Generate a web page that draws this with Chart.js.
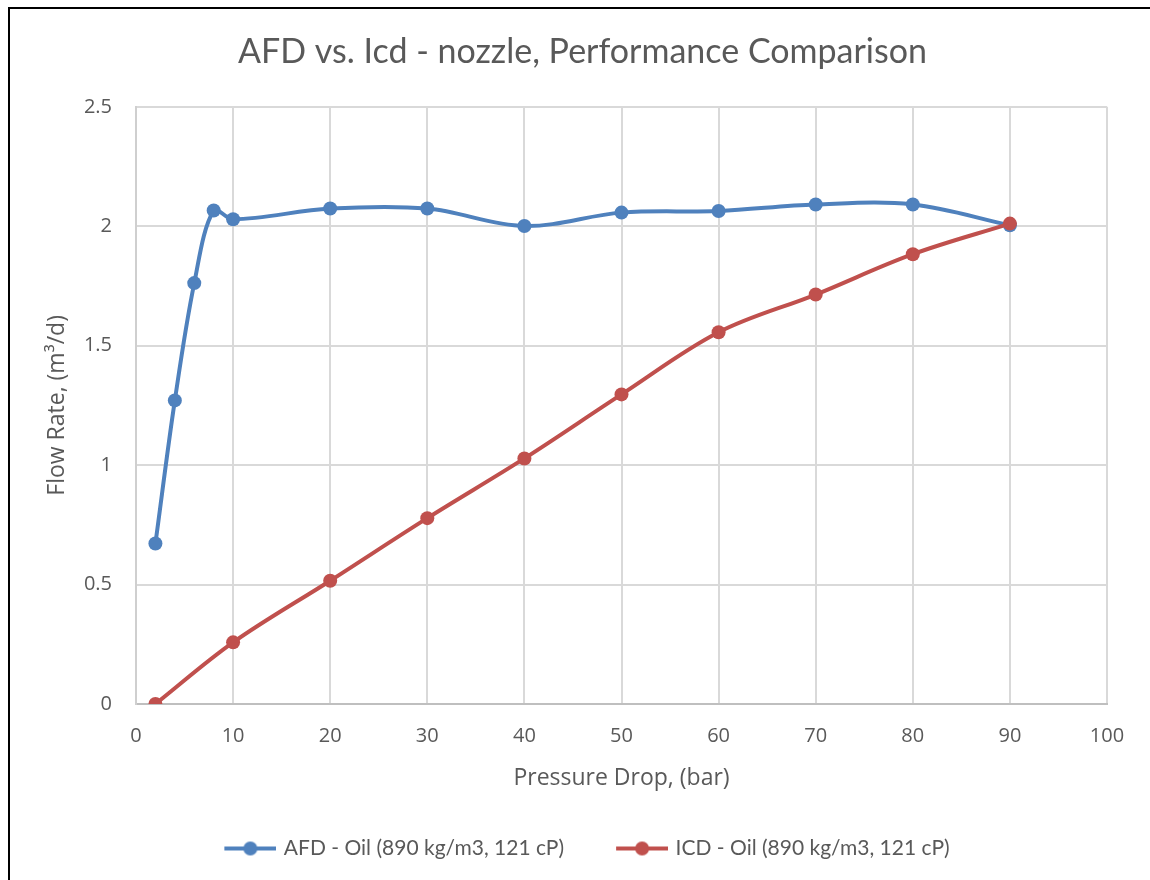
<!DOCTYPE html>
<html>
<head>
<meta charset="utf-8">
<title>AFD vs. Icd - nozzle, Performance Comparison</title>
<script src="https://cdn.jsdelivr.net/npm/chart.js@4.4.1/dist/chart.umd.min.js"></script>
<style>
  html, body { margin: 0; padding: 0; background: #ffffff; }
  #wrap { position: relative; width: 1150px; height: 880px; overflow: hidden; }
  #frame { position: absolute; left: 8px; top: 7px; width: 1200px; height: 900px;
           border-left: 2px solid #000; border-top: 2px solid #000; pointer-events: none; }
  canvas { position: absolute; left: 0; top: 0; }
</style>
</head>
<body>
<div id="wrap">
  <canvas id="chart" width="1150" height="880"></canvas>
  <div id="frame"></div>
</div>
<script>
// Pressure drop (bar) and oil flow rate (m³/d) for each device
const afdPressure = [2, 4, 6, 8, 10, 20, 30, 40, 50, 60, 70, 80, 90];
const afdFlow     = [0.672, 1.271, 1.762, 2.066, 2.029, 2.074, 2.074, 2.001, 2.057, 2.064, 2.091, 2.091, 2.004];
const icdPressure = [2, 10, 20, 30, 40, 50, 60, 70, 80, 90];
const icdFlow     = [0, 0.258, 0.516, 0.778, 1.028, 1.296, 1.556, 1.714, 1.883, 2.011];
const seriesNames = ['AFD - Oil (890 kg/m3, 121 cP)', 'ICD - Oil (890 kg/m3, 121 cP)'];
const seriesColors = ['#4f81bd', '#c0504d'];

const TEXT = '#595959';
const SANS = '"Open Sans", "Noto Sans", sans-serif';
const HUMAN = 'Lato, "Open Sans", sans-serif';

function toPoints(xs, ys) {
  return xs.map((x, i) => ({ x: x, y: ys[i] }));
}

// Legend marker: a short line with a dot in the middle
function legendSymbol(color) {
  const c = document.createElement('canvas');
  c.width = 64; c.height = 16;
  const g = c.getContext('2d');
  g.strokeStyle = color;
  g.lineWidth = 4;
  g.beginPath();
  g.moveTo(12, 8); g.lineTo(64, 8);
  g.stroke();
  g.fillStyle = color;
  g.beginPath();
  g.arc(38, 8, 7, 0, Math.PI * 2);
  g.fill();
  return c;
}
const symbols = seriesColors.map(legendSymbol);

const datasets = [
  { label: seriesNames[0], data: toPoints(afdPressure, afdFlow), order: 2 },
  { label: seriesNames[1], data: toPoints(icdPressure, icdFlow), order: 1 }
].map((ds, i) => Object.assign(ds, {
  borderColor: seriesColors[i],
  backgroundColor: seriesColors[i],
  borderWidth: 4,
  pointRadius: 7,
  pointHoverRadius: 7,
  pointBorderWidth: 0,
  pointBackgroundColor: seriesColors[i],
  tension: 0.35,
  fill: false,
  yAxisID: 'y'
}));

new Chart(document.getElementById('chart'), {
  type: 'line',
  data: { datasets: datasets },
  options: {
    responsive: false,
    animation: false,
    devicePixelRatio: 1,
    layout: { padding: { left: 29, right: 14, top: 0, bottom: 11 } },
    plugins: {
      tooltip: { enabled: false },
      title: {
        display: true,
        text: 'AFD vs. Icd - nozzle, Performance Comparison',
        color: TEXT,
        font: { family: HUMAN, size: 34, weight: 'normal' },
        padding: { top: 32, bottom: 34 }
      },
      legend: {
        position: 'bottom',
        labels: {
          usePointStyle: true,
          pointStyleWidth: 58,
          padding: 43,
          color: TEXT,
          font: { family: HUMAN, size: 21 },
          generateLabels: (chart) => chart.data.datasets.map((ds, i) => ({
            text: ds.label,
            pointStyle: symbols[i],
            fillStyle: ds.borderColor,
            strokeStyle: ds.borderColor,
            fontColor: TEXT,
            lineWidth: 0,
            hidden: false,
            datasetIndex: i
          }))
        }
      }
    },
    scales: {
      x: {
        type: 'linear',
        min: 0, max: 100,
        ticks: { stepSize: 10, color: TEXT, padding: 20, font: { family: SANS, size: 20 } },
        grid: { color: '#d9d9d9', lineWidth: 2, drawTicks: false },
        border: { color: '#bfbfbf', width: 2 },
        title: {
          display: true, text: 'Pressure Drop, (bar)', color: TEXT,
          font: { family: SANS, size: 23 }, padding: { top: 0, bottom: 3 }
        },
        afterFit: (s) => {
          const lg = s.chart.legend ? s.chart.legend.height : 78;
          s.height = 880 - 11 - lg - 704;
        }
      },
      y: {
        type: 'linear',
        position: 'left',
        min: 0, max: 2.5,
        ticks: {
          stepSize: 0.5, color: TEXT, padding: 24, font: { family: SANS, size: 20 },
          callback: (v) => String(Number(v.toFixed(2)))
        },
        grid: { color: '#d9d9d9', lineWidth: 2, drawTicks: false },
        border: { color: '#cfcfcf', width: 2 },
        title: {
          display: true, text: 'Flow Rate, (m³/d)', color: TEXT,
          font: { family: SANS, size: 23 }, padding: { top: 15, bottom: 0 }
        },
        afterFit: (s) => { s.width = 107; }
      },
      yRight: {
        type: 'linear',
        position: 'right',
        display: true,
        grid: { display: false, drawTicks: false },
        border: { display: false },
        ticks: { display: false },
        afterFit: (s) => { s.width = 29; }
      }
    }
  }
});
</script>
</body>
</html>
